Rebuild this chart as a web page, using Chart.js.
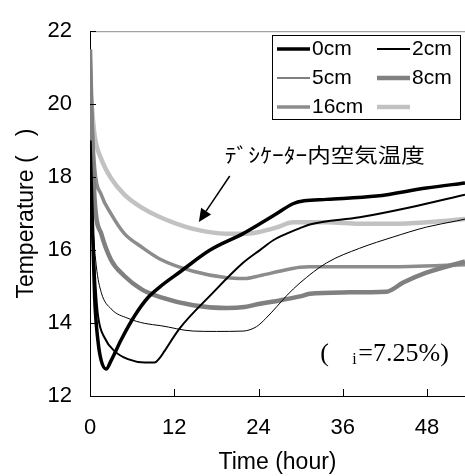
<!DOCTYPE html>
<html><head><meta charset="utf-8">
<script src="https://cdn.jsdelivr.net/npm/chart.js@4.4.0/dist/chart.umd.min.js"></script>
<style>html,body{margin:0;padding:0;background:#fff;}#wrap{width:465px;height:476px;}</style>
</head><body><div id="wrap"><canvas id="c" width="465" height="476"></canvas></div>
<script>
// ---- data (time in hours, temperature in deg C) ----
const seriesNames = ['0cm', '2cm', '5cm', '8cm', '16cm', ''];
const t0cm = [0, 0.3, 0.67, 1.14, 1.6, 2.3, 3.0, 4.46, 6.36, 8.26, 10.0, 12.8, 17.1, 21.8, 24.2, 26.6, 28.9, 30.5, 33.7, 40.8, 47.9, 53.4];
const v0cm = [19.0, 17.0, 14.66, 13.5, 12.97, 12.74, 12.97, 13.55, 14.2, 14.7, 15.0, 15.4, 16.0, 16.45, 16.72, 17.0, 17.27, 17.35, 17.39, 17.48, 17.7, 17.84];
const t2cm = [0, 0.4, 0.8, 1.14, 2.1, 3.5, 5.4, 7.8, 9.2, 10.0, 10.6, 12.8, 17.1, 21.8, 24.2, 26.1, 28.0, 29.9, 31.3, 38.4, 45.5, 53.4];
const v2cm = [19.0, 16.5, 15.0, 14.2, 13.59, 13.23, 13.01, 12.92, 12.92, 13.06, 13.23, 13.86, 14.75, 15.65, 16.0, 16.27, 16.45, 16.6, 16.7, 16.9, 17.17, 17.52];
const t5cm = [0, 0.4, 0.9, 1.6, 3.0, 5.4, 7.8, 10.0, 14.7, 18.0, 21.8, 23.7, 25.0, 26.6, 28.0, 29.9, 33.7, 38.4, 43.2, 47.9, 52.2, 53.4];
const v5cm = [19.0, 16.8, 15.56, 14.84, 14.39, 14.13, 13.99, 13.93, 13.78, 13.77, 13.78, 13.9, 14.12, 14.45, 14.75, 15.1, 15.65, 16.05, 16.36, 16.63, 16.8, 16.85];
const t8cm = [0, 0.25, 0.67, 1.6, 3.0, 4.9, 7.3, 10.0, 14.7, 19.5, 22.0, 24.2, 27.0, 29.9, 31.3, 36.0, 42.2, 44.6, 47.9, 53.4];
const v8cm = [21.5, 19.5, 17.34, 16.45, 15.73, 15.29, 14.93, 14.71, 14.49, 14.41, 14.44, 14.53, 14.62, 14.73, 14.8, 14.84, 14.86, 15.11, 15.38, 15.69];
const t16cm = [0, 0.2, 0.67, 1.6, 3.0, 4.9, 7.3, 10.0, 14.7, 19.5, 22.0, 24.2, 27.0, 29.9, 31.3, 38.4, 45.5, 53.4];
const v16cm = [21.5, 20.0, 18.24, 17.52, 16.99, 16.45, 16.09, 15.75, 15.42, 15.24, 15.22, 15.3, 15.42, 15.53, 15.54, 15.54, 15.55, 15.6];
const tAir = [0, 0.67, 1.6, 3.0, 4.9, 7.3, 10.0, 14.7, 19.5, 22.3, 24.2, 26.6, 28.9, 33.7, 38.4, 43.2, 47.9, 53.4];
const vAir = [20.5, 19.13, 18.5, 17.97, 17.52, 17.17, 16.9, 16.58, 16.45, 16.45, 16.5, 16.62, 16.76, 16.76, 16.72, 16.72, 16.76, 16.85];
const xTicks = [0, 12, 24, 36, 48];
const yTicks = [12, 14, 16, 18, 20, 22];
const xMin = 0, xMax = 53.4, yMin = 12, yMax = 22;
const xTitle = 'Time (hour)';
const yTitle = 'Temperature (   )';
const airLabel = 'ﾃﾞｼｹｰﾀｰ内空気温度';
const noteOpen = '(', noteSub = 'i', noteRest = '=7.25%)';

const zip = (t, v) => t.map((x, i) => ({ x: x, y: v[i] }));
const styles = [
  { c: '#000000', w: 3.5 },
  { c: '#000000', w: 2 },
  { c: '#000000', w: 1 },
  { c: '#808080', w: 4.5 },
  { c: '#8c8c8c', w: 3.5 },
  { c: '#c2c2c2', w: 4.5 }
];
const pairs = [[t0cm, v0cm], [t2cm, v2cm], [t5cm, v5cm], [t8cm, v8cm], [t16cm, v16cm], [tAir, vAir]];
const datasets = pairs.map((p, i) => ({
  label: seriesNames[i] || 'air',
  data: zip(p[0], p[1]),
  borderColor: styles[i].c,
  borderWidth: styles[i].w,
  pointRadius: 0,
  fill: false,
  cubicInterpolationMode: 'monotone',
  order: i
}));

const FONT = '"Liberation Sans", Arial, sans-serif';

const overlay = {
  id: 'overlay',
  afterDraw(chart) {
    const ctx = chart.ctx, xs = chart.scales.x, ys = chart.scales.y, a = chart.chartArea;
    ctx.save();
    // top frame line
    ctx.strokeStyle = '#8c8c8c'; ctx.lineWidth = 1;
    ctx.beginPath(); ctx.moveTo(a.left, a.top + 0.5); ctx.lineTo(a.right, a.top + 0.5); ctx.stroke();
    // inward ticks
    ctx.strokeStyle = '#000'; ctx.beginPath();
    xTicks.forEach(v => { if (v === xMin) return; const x = Math.round(xs.getPixelForValue(v)) + 0.5; ctx.moveTo(x, a.bottom); ctx.lineTo(x, a.bottom - 7); });
    yTicks.forEach(v => { const y = Math.round(ys.getPixelForValue(v)) + 0.5; ctx.moveTo(a.left, y); ctx.lineTo(a.left + 6, y); });
    ctx.stroke();

    // legend box
    const L = 272, T = 35, R = 460, B = 119;
    ctx.fillStyle = '#fff'; ctx.fillRect(L, T, R - L, B - T);
    ctx.strokeStyle = '#000'; ctx.lineWidth = 1; ctx.strokeRect(L + 0.5, T + 0.5, R - L, B - T);
    const rows = [49, 78, 107];
    const cols = [[277, 310], [377, 410]];
    ctx.font = '21px ' + FONT; ctx.textBaseline = 'middle'; ctx.textAlign = 'left'; ctx.fillStyle = '#000';
    datasets.forEach((d, i) => {
      const r = rows[Math.floor(i / 2)], c = cols[i % 2];
      ctx.strokeStyle = d.borderColor; ctx.lineWidth = d.borderWidth;
      ctx.beginPath(); ctx.moveTo(c[0], r); ctx.lineTo(c[1], r); ctx.stroke();
      if (seriesNames[i]) ctx.fillText(seriesNames[i], c[1] + 2, r);
    });

    // arrow to air temperature curve
    const ax0 = xs.getPixelForValue(19.9), ay0 = ys.getPixelForValue(18.03);
    const ax1 = xs.getPixelForValue(15.5), ay1 = ys.getPixelForValue(16.77);
    const ang = Math.atan2(ay1 - ay0, ax1 - ax0), hl = 13, hw = 6;
    ctx.strokeStyle = '#000'; ctx.lineWidth = 1.5;
    ctx.beginPath(); ctx.moveTo(ax0, ay0);
    ctx.lineTo(ax1 - hl * Math.cos(ang), ay1 - hl * Math.sin(ang)); ctx.stroke();
    ctx.fillStyle = '#000'; ctx.beginPath();
    ctx.moveTo(ax1, ay1);
    ctx.lineTo(ax1 - hl * Math.cos(ang) + hw * Math.sin(ang), ay1 - hl * Math.sin(ang) - hw * Math.cos(ang));
    ctx.lineTo(ax1 - hl * Math.cos(ang) - hw * Math.sin(ang), ay1 - hl * Math.sin(ang) + hw * Math.cos(ang));
    ctx.closePath(); ctx.fill();

    // japanese label (horizontally stretched like the original)
    ctx.font = '20px "Noto Sans CJK JP"'; ctx.textBaseline = 'alphabetic';
    const jw = ctx.measureText(airLabel).width;
    const jx = xs.getPixelForValue(19.2), jy = ys.getPixelForValue(18.4);
    ctx.save(); ctx.translate(jx, jy); ctx.scale(200 / jw, 1); ctx.fillText(airLabel, 0, 0); ctx.restore();

    // note (phi_i = 7.25%)
    const nx = xs.getPixelForValue(32.8), ny = ys.getPixelForValue(12.95);
    ctx.font = '26px "Liberation Serif", serif';
    ctx.fillText(noteOpen, nx, ny);
    ctx.font = '16px "Liberation Serif", serif';
    ctx.fillText(noteSub, nx + 32, ny + 3);
    ctx.font = '26px "Liberation Serif", serif';
    ctx.fillText(noteRest, nx + 38, ny);
    ctx.restore();
  }
};

new Chart(document.getElementById('c'), {
  type: 'line',
  data: { datasets: datasets },
  options: {
    responsive: false, animation: false, devicePixelRatio: 1,
    layout: { padding: { top: 23, right: 0, left: 0, bottom: 0 } },
    plugins: { legend: { display: false }, tooltip: { enabled: false } },
    scales: {
      x: {
        type: 'linear', min: xMin, max: xMax,
        afterBuildTicks: s => { s.ticks = xTicks.map(v => ({ value: v })); },
        afterFit: s => { s.height = 80; },
        grid: { display: true, drawOnChartArea: false, drawTicks: false },
        border: { display: true, color: '#000', width: 1 },
        ticks: { color: '#000', font: { size: 22, family: FONT }, padding: 19, maxRotation: 0 },
        title: { display: true, text: xTitle, color: '#000', font: { size: 23, family: FONT }, padding: { top: 0, bottom: 0 } }
      },
      y: {
        type: 'linear', min: yMin, max: yMax,
        afterBuildTicks: s => { s.ticks = yTicks.map(v => ({ value: v })); },
        afterFit: s => { s.width = 90; },
        grid: { display: true, drawOnChartArea: false, drawTicks: false },
        border: { display: true, color: '#000', width: 1 },
        ticks: { color: '#000', font: { size: 22, family: FONT }, padding: 18 },
        title: { display: true, text: yTitle, color: '#000', font: { size: 23, family: FONT }, padding: { top: 13, bottom: 0 } }
      }
    }
  },
  plugins: [overlay]
});
</script>
</body></html>
